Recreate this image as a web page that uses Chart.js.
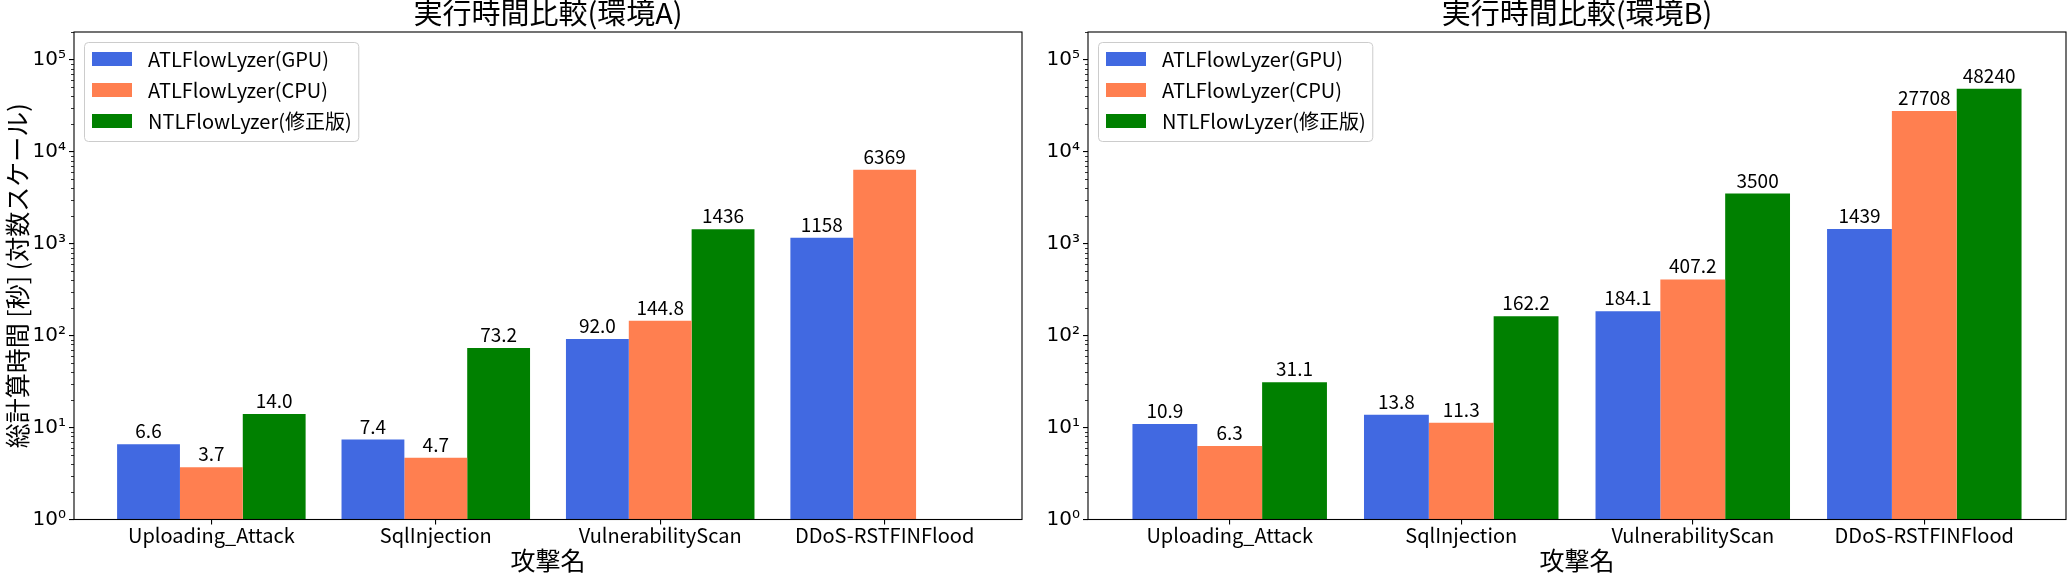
<!DOCTYPE html>
<html>
<head>
<meta charset="utf-8">
<script src="https://cdn.jsdelivr.net/npm/chart.js@4"></script>
<style>
  body { margin: 0; background: #fff; width: 2067px; height: 573px; overflow: hidden; position: relative; }
  canvas { position: absolute; top: 0; }
  #chartA { left: 0; }
  #chartB { left: 1040px; }
</style>
</head>
<body>
<canvas id="chartA" width="1040" height="573"></canvas>
<canvas id="chartB" width="1027" height="573"></canvas>
<script>
const categories = ['Uploading_Attack', 'SqlInjection', 'VulnerabilityScan', 'DDoS-RSTFINFlood'];
const seriesNames = ['ATLFlowLyzer(GPU)', 'ATLFlowLyzer(CPU)', 'NTLFlowLyzer(修正版)'];
const seriesColors = ['#4169e1', '#ff7f50', '#008000'];

// 環境A
const gpuA = [6.6, 7.4, 92.0, 1158];
const cpuA = [3.7, 4.7, 144.8, 6369];
const ntlA = [14.0, 73.2, 1436, null];
// 環境B
const gpuB = [10.9, 13.8, 184.1, 1439];
const cpuB = [6.3, 11.3, 407.2, 27708];
const ntlB = [31.1, 162.2, 3500, 48240];

const yTicks = [1, 10, 100, 1000, 10000, 100000];
const yTickLabels = ['10⁰', '10¹', '10²', '10³', '10⁴', '10⁵'];
const yMax = 2e5;

const JP = "'Noto Sans CJK JP', sans-serif";

const fmt = v => v >= 1000 ? String(Math.round(v)) : v.toFixed(1);

// bar labels, minor ticks, frame, title and legend
const chartDecor = {
  id: 'chartDecor',
  afterDatasetsDraw(chart) {
    const ctx = chart.ctx;
    ctx.save();
    ctx.font = `19px ${JP}`;
    ctx.fillStyle = '#000';
    ctx.textAlign = 'center';
    ctx.textBaseline = 'alphabetic';
    chart.data.datasets.forEach((ds, i) => {
      chart.getDatasetMeta(i).data.forEach((bar, j) => {
        const v = ds.data[j].y;
        if (v == null) return;
        ctx.fillText(fmt(v), bar.x, bar.y - 6);
      });
    });
    ctx.restore();
  },
  afterDraw(chart, args, opts) {
    const { ctx, chartArea: a } = chart;
    const y = chart.scales.y;
    ctx.save();

    // minor ticks
    ctx.strokeStyle = '#000';
    ctx.lineWidth = 0.8;
    ctx.beginPath();
    for (let e = 0; e < 6; e++) {
      for (let m = 2; m < 10; m++) {
        const v = m * Math.pow(10, e);
        if (v > yMax) continue;
        const py = Math.round(y.getPixelForValue(v)) + 0.5;
        ctx.moveTo(a.left - 3, py);
        ctx.lineTo(a.left, py);
      }
    }
    ctx.stroke();

    // frame
    ctx.lineWidth = 1.1;
    ctx.strokeStyle = '#000';
    ctx.strokeRect(a.left, a.top, a.right - a.left, a.bottom - a.top);

    // title
    ctx.fillStyle = '#000';
    ctx.font = `29px ${JP}`;
    ctx.textAlign = 'center';
    ctx.textBaseline = 'alphabetic';
    ctx.fillText(opts.title, (a.left + a.right) / 2, a.top - 8);

    // legend
    ctx.font = `20px ${JP}`;
    const ds = chart.data.datasets;
    const maxW = Math.max(...ds.map(d => ctx.measureText(d.label).width));
    const x0 = a.left + 10, y0 = a.top + 10;
    const w = 8 + 39 + 15.6 + maxW + 8, h = 99;
    ctx.beginPath();
    ctx.roundRect(x0 + 0.5, y0 + 0.5, w, h, 4);
    ctx.fillStyle = 'rgba(255,255,255,0.8)';
    ctx.fill();
    ctx.strokeStyle = '#cccccc';
    ctx.lineWidth = 1;
    ctx.stroke();
    ctx.textAlign = 'left';
    ctx.textBaseline = 'middle';
    ds.forEach((d, i) => {
      const cy = y0 + 17 + i * 31;
      ctx.fillStyle = d.backgroundColor;
      ctx.fillRect(x0 + 8, cy - 7, 40, 14);
      ctx.fillStyle = '#000';
      ctx.fillText(d.label, x0 + 8 + 40 + 16, cy);
    });

    ctx.restore();
  }
};

function makeChart(id, gpu, cpu, ntl, title, yTitle, yWidth, padRight) {
  const series = [gpu, cpu, ntl];
  return new Chart(document.getElementById(id), {
    type: 'bar',
    data: {
      datasets: series.map((vals, k) => ({
        label: seriesNames[k],
        data: vals.map((v, i) => ({ x: i, y: v })),
        backgroundColor: seriesColors[k],
        borderWidth: 0,
        categoryPercentage: 0.84,
        barPercentage: 1.0
      }))
    },
    options: {
      responsive: false,
      animation: false,
      devicePixelRatio: 1,
      events: [],
      layout: { padding: { top: 32, right: padRight, bottom: 0, left: 0 } },
      plugins: {
        legend: { display: false },
        tooltip: { enabled: false },
        chartDecor: { title: title }
      },
      scales: {
        x: {
          type: 'linear',
          min: -0.612,
          max: 3.612,
          offset: false,
          grid: { display: true, drawOnChartArea: false, offset: false, tickLength: 5, color: '#000', lineWidth: 1.1 },
          border: { display: false },
          afterBuildTicks: s => { s.ticks = categories.map((c, i) => ({ value: i })); },
          afterFit: s => { s.height = 53.5; },
          ticks: {
            callback: v => categories[v],
            font: { family: JP, size: 20, lineHeight: 1.0 },
            color: '#000',
            padding: 1,
            maxRotation: 0,
            autoSkip: false
          },
          title: { display: true, text: '攻撃名', font: { family: JP, size: 25, lineHeight: 1.0 }, color: '#000', padding: 0 }
        },
        y: {
          type: 'logarithmic',
          min: 1,
          max: yMax,
          grid: { drawOnChartArea: false, tickLength: 5, color: '#000', lineWidth: 1.1 },
          border: { display: false },
          afterBuildTicks: s => { s.ticks = yTicks.map(v => ({ value: v, major: true })); },
          afterFit: s => { s.width = yWidth; },
          ticks: {
            callback: v => yTickLabels[yTicks.indexOf(v)],
            font: { family: 'DejaVu Sans', size: 20 },
            color: '#000',
            padding: 3,
            autoSkip: false
          },
          title: { display: !!yTitle, text: yTitle, font: { family: JP, size: 25, lineHeight: 1.1 }, color: '#000', padding: { top: 4, bottom: 0 } }
        }
      }
    },
    plugins: [chartDecor]
  });
}

makeChart('chartA', gpuA, cpuA, ntlA, '実行時間比較(環境A)', '総計算時間 [秒] (対数スケール)', 74, 18);
makeChart('chartB', gpuB, cpuB, ntlB, '実行時間比較(環境B)', '', 48, 1);
</script>
</body>
</html>
